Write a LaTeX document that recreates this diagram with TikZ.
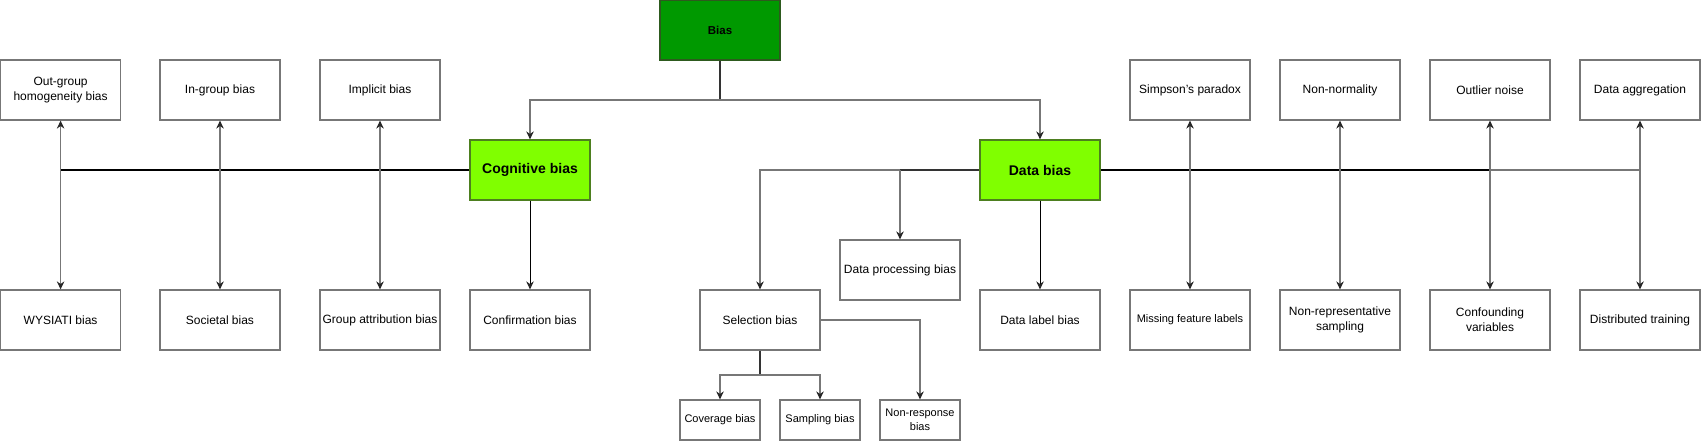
\documentclass[tikz,border=0pt]{standalone}
\usepackage{fontspec}
\setmainfont{Liberation Sans}
\usetikzlibrary{arrows.meta}
\definecolor{biasfill}{HTML}{009900}
\definecolor{biasdraw}{HTML}{2D5A1E}
\definecolor{subfill}{HTML}{80FF00}
\definecolor{subdraw}{HTML}{4D7F1F}
\definecolor{lgray}{HTML}{777777}
\definecolor{dgray}{HTML}{333333}
\begin{document}
\begin{tikzpicture}[x=1pt,y=-1pt,
  >={Stealth[length=8pt,width=7.5pt,inset=2.6pt,color=black!85]},
  box/.style={draw=lgray, line width=1.2pt, fill=white, minimum width=120pt, minimum height=60pt,
    inner sep=1pt, align=center, font=\fontsize{12}{15}\selectfont, text=black},
  smallbox/.style={box, minimum width=80pt, minimum height=40pt, font=\fontsize{11}{14}\selectfont},
  rootbox/.style={box, fill=biasfill, draw=biasdraw, font=\fontsize{11.5}{14}\bfseries},
  subbox/.style={box, fill=subfill, draw=subdraw, font=\fontsize{14}{17}\bfseries},
  gline/.style={draw=lgray, line width=1.2pt},
  dline/.style={draw=dgray, line width=1.4pt},
  kline/.style={draw=black, line width=1.8pt},
  thin/.style={draw=black, line width=1pt}]
\useasboundingbox (0,0) rectangle (1701,441);
% root and main branches
\node[rootbox] (bias) at (720,30) {Bias};
\node[subbox] (cog) at (530,170) {Cognitive bias};
\node[subbox] (data) at (1040,170) {Data bias};
% top row
\node[box] (outg) at (60.6,90) {Out-group\\homogeneity bias};
\node[box] (ing) at (220,90) {In-group bias};
\node[box] (impl) at (380,90) {Implicit bias};
\node[box] (simp) at (1190,90) {Simpson's paradox};
\node[box] (nonn) at (1340,90) {Non-normality};
\node[box] (outl) at (1490,90) {Outlier noise};
\node[box] (aggr) at (1640,90) {Data aggregation};
% bottom row
\node[box] (wys) at (60.6,320) {WYSIATI bias};
\node[box] (soc) at (220,320) {Societal bias};
\node[box] (grp) at (380,320) {Group attribution bias};
\node[box] (conf) at (530,320) {Confirmation bias};
\node[box] (sel) at (760,320) {Selection bias};
\node[box] (dproc) at (900,270) {Data processing bias};
\node[box] (dlab) at (1040,320) {Data label bias};
\node[box, font=\fontsize{11}{14}\selectfont] (miss) at (1190,320) {Missing feature labels};
\node[box] (nrep) at (1340,320) {Non-representative\\sampling};
\node[box] (cvar) at (1490,320) {Confounding\\variables};
\node[box] (dist) at (1640,320) {Distributed training};
% small boxes
\node[smallbox] (cov) at (720,420) {Coverage bias};
\node[smallbox] (samp) at (820,420) {Sampling bias};
\node[smallbox] (nresp) at (920,420) {Non-response\\bias};
% junctions
\coordinate (bj) at (720,100);
\coordinate (cj) at (60.6,170);
\coordinate (dj) at (900,170);
\coordinate (rj) at (1490,170);
\coordinate (rend) at (1640,170);
\coordinate (sj) at (760,375);
% connectors
\draw[dline] (bias.south) -- (bj);
\draw[gline,->] (bj) -| (cog.north);
\draw[gline,->] (bj) -| (data.north);
\draw[kline] (cog.west) -- (cj);
\draw[gline,<->] (outg.south) -- (wys.north);
\draw[gline,<->] (ing.south) -- (soc.north);
\draw[gline,<->] (impl.south) -- (grp.north);
\draw[thin,->] (cog.south) -- (conf.north);
\draw[dline] (data.west) -- (dj);
\draw[gline,->] (dj) -- (dproc.north);
\draw[gline,->] (dj) -| (sel.north);
\draw[thin,->] (data.south) -- (dlab.north);
\draw[kline] (data.east) -- (rj);
\draw[gline] (rj) -- (rend);
\draw[gline,<->] (simp.south) -- (miss.north);
\draw[gline,<->] (nonn.south) -- (nrep.north);
\draw[gline,<->] (outl.south) -- (cvar.north);
\draw[gline,<->] (aggr.south) -- (dist.north);
\draw[dline] (sel.south) -- (sj);
\draw[gline,->] (sj) -| (cov.north);
\draw[gline,->] (sj) -| (samp.north);
\draw[gline,->] (sel.east) -| (nresp.north);
\end{tikzpicture}
\end{document}
